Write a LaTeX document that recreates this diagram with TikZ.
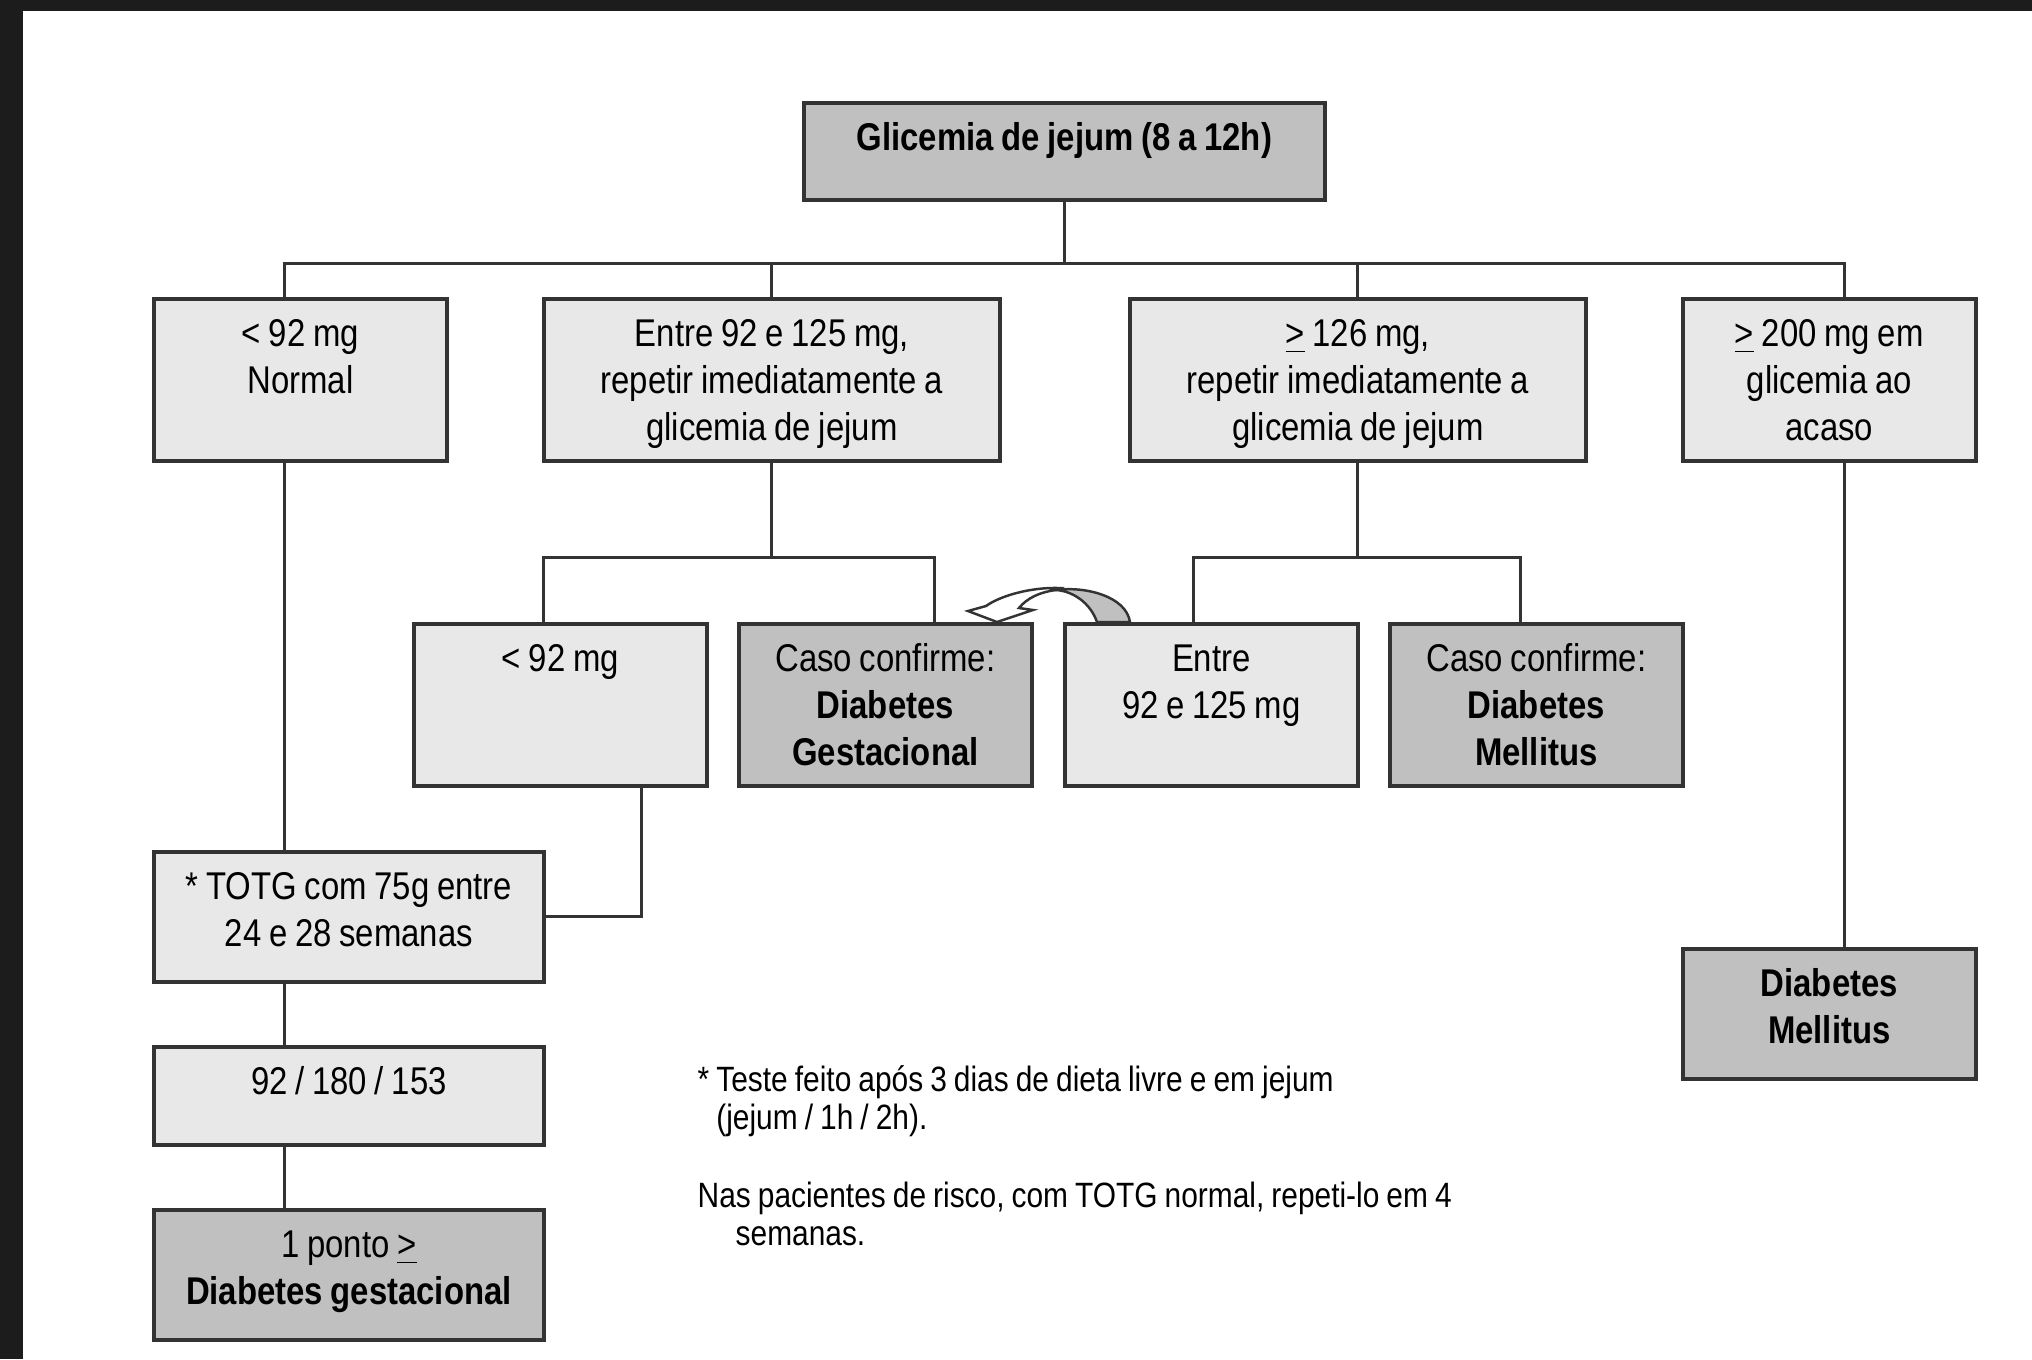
\documentclass[tikz,border=0pt]{standalone}
\usepackage{fontspec}
\setmainfont[FakeStretch=0.85, WordSpace=0.85]{Liberation Sans}
\usepackage{tikz}
\usetikzlibrary{positioning}

\definecolor{lightfill}{HTML}{E8E8E8}
\definecolor{darkfill}{HTML}{C0C0C0}
\definecolor{linec}{HTML}{333333}
\definecolor{framec}{HTML}{1C1C1C}

\tikzset{
  box/.style 2 args={draw=linec, line width=1pt, fill=lightfill, anchor=north west,
    inner sep=0pt, text width=#1, text height=0.48cm, text depth=#2, align=flush center,
    font=\fontsize{11pt}{13.3pt}\selectfont},
  darkbox/.style={fill=darkfill},
  conn/.style={draw=linec, line width=0.85pt},
  note/.style={anchor=base west, align=left, inner sep=0pt,
    font=\fontsize{10pt}{10.8pt}\selectfont},
}

\begin{document}
\begin{tikzpicture}[x=0.01cm, y=-0.01cm]
        \useasboundingbox (0,0) rectangle (2032,1359);
        \fill[framec] (0,0) rectangle (2032,1359);
        \fill[white] (23,11) rectangle (2032,1359);

        \node[box={5.21cm}{0.49cm}, darkbox] (glic) at (802,101) {\textbf{Glicemia de jejum (8 a 12h)}};

        \node[box={2.93cm}{1.14cm}] (nrm) at (152,297) {< 92 mg\\Normal};
        \node[box={4.56cm}{1.14cm}] (entre) at (542,297) {Entre 92 e 125 mg,\\repetir imediatamente a\\glicemia de jejum};
        \node[box={4.56cm}{1.14cm}] (alto) at (1128,297) {\underline{>} 126 mg,\\repetir imediatamente a\\glicemia de jejum};
        \node[box={2.93cm}{1.14cm}] (ale) at (1681,297) {\underline{>} 200 mg em\\glicemia ao\\acaso};

        \node[box={2.93cm}{1.14cm}] (menor) at (412,622) {< 92 mg};
        \node[box={2.93cm}{1.14cm}, darkbox] (dg1) at (737,622) {Caso confirme:\\\textbf{Diabetes}\\\textbf{Gestacional}};
        \node[box={2.93cm}{1.14cm}] (inter) at (1063,622) {Entre\\92 e 125 mg};
        \node[box={2.93cm}{1.14cm}, darkbox] (dm1) at (1388,622) {Caso confirme:\\\textbf{Diabetes}\\\textbf{Mellitus}};

        \node[box={3.90cm}{0.82cm}] (totg) at (152,850) {* TOTG com 75g entre\\24 e 28 semanas};
        \node[box={3.90cm}{0.50cm}] (vals) at (152,1045) {92 / 180 / 153};
        \node[box={3.90cm}{0.82cm}, darkbox] (dg2) at (152,1208) {1 ponto \underline{>}\\\textbf{Diabetes gestacional}};
        \node[box={2.93cm}{0.82cm}, darkbox] (dm2) at (1681,947) {\textbf{Diabetes}\\\textbf{Mellitus}};

        \coordinate (bus) at (1063,263);
        \coordinate (busB) at (770,557);
        \coordinate (busC) at (1356,557);

        \draw[conn] (glic.south) -- (glic.south |- bus)
            ([xshift=-.155cm]nrm.north) |- (bus) -| ([xshift=.155cm]ale.north)
            (entre.north) -- (entre.north |- bus)
            (alto.north) -- (alto.north |- bus);
        \draw[conn] (entre.south) -- (entre.south |- busB)
            ([xshift=-.165cm]menor.north) |- (busB) -| ([xshift=.495cm]dg1.north);
        \draw[conn] (alto.south) -- (alto.south |- busC)
            ([xshift=-.175cm]inter.north) |- (busC) -| ([xshift=-.155cm]dm1.north);
        \draw[conn] ([xshift=-.155cm]nrm.south) -- ([xshift=-.64cm]totg.north)
            ([xshift=.815cm]menor.south) |- (totg.east)
            ([xshift=-.64cm]totg.south) -- ([xshift=-.64cm]vals.north)
            ([xshift=-.64cm]vals.south) -- ([xshift=-.64cm]dg2.north)
            ([xshift=.155cm]ale.south) -- ([xshift=.155cm]dm2.north);

        % seta curva de G para F
        \filldraw[fill=darkfill, draw=linec, line width=.7pt]
            (1097,622) .. controls (1090,602) and (1072,591) .. (1056,590)
            .. controls (1085,586) and (1126,596) .. (1130,622) -- cycle;
        \filldraw[fill=white, draw=linec, line width=.7pt]
            (1060,588) .. controls (1030,587) and (1000,596) .. (986,606)
            -- (968,611) -- (997,622) -- (1033,610) -- (1019,608)
            .. controls (1027,598) and (1040,592) .. (1056,590) -- cycle;

        \node[note] (nota1) at (697,1129) {* Teste feito após 3 dias de dieta livre e em jejum\\\hphantom{* }(jejum / 1h / 2h).};
        \node[note] (nota2) at (697,1245) {Nas pacientes de risco, com TOTG normal, repeti-lo em 4\\\hspace*{10.8pt}semanas.};
    \end{tikzpicture}
\end{document}
